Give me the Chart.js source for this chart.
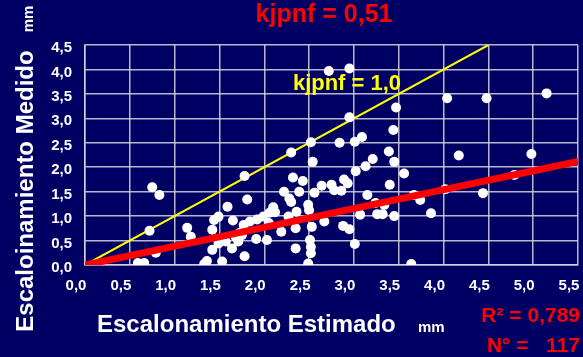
<!DOCTYPE html>
<html>
<head>
<meta charset="utf-8">
<script src="https://cdn.jsdelivr.net/npm/chart.js@4/dist/chart.umd.min.js"></script>
<style>
  html, body { margin: 0; padding: 0; background: #000064; }
  #wrap { width: 583px; height: 357px; }
</style>
</head>
<body>
<div id="wrap"><canvas id="myChart1" width="583" height="357"></canvas></div>
<script>
// escalonamiento estimado (x) / medido (y), mm
var estX = [0.59, 0.66, 0.72, 0.75, 0.83, 0.79, 1.14, 1.18, 1.33, 1.36,
  1.42, 1.42, 1.44, 1.49, 1.49, 1.53, 1.57, 1.59, 1.65, 1.64,
  1.71, 1.75, 1.68, 1.77, 1.78, 1.78, 1.81, 1.84, 1.91, 1.92,
  1.99, 2.03, 2.06, 2.10, 2.12, 2.19, 2.22, 2.28, 2.30, 2.27,
  2.30, 2.32, 2.35, 2.35, 2.36, 2.39, 2.43, 2.49, 2.50, 2.51,
  2.52, 2.52, 2.49, 2.52, 2.54, 2.53, 2.56, 2.64, 2.67, 2.72,
  2.75, 2.78, 2.84, 2.86, 2.88, 2.89, 2.93, 2.95, 2.95, 2.95,
  3.01, 3.02, 3.01, 3.07, 3.09, 3.13, 3.15, 3.21, 3.24, 3.26,
  3.32, 3.34, 3.39, 3.40, 3.44, 3.45, 3.45, 3.47, 3.56, 3.64,
  3.67, 3.74, 3.86, 4.02, 4.04, 4.17, 4.44, 4.48, 4.79, 4.98,
  5.15, 1.73, 2.05];
var medY = [0.04, 0.04, 0.70, 1.59, 1.43, 0.25, 0.76, 0.58, 0.02, 0.08,
  0.31, 0.72, 0.92, 0.99, 0.44, 0.07, 0.48, 1.19, 0.91, 0.34,
  0.48, 0.61, 0.58, 0.82, 0.18, 1.82, 1.34, 0.89, 0.53, 0.93,
  0.99, 0.51, 1.07, 1.18, 1.08, 0.68, 1.50, 1.36, 1.29, 0.99,
  2.30, 1.79, 0.75, 0.34, 1.09, 1.50, 1.72, 1.23, 1.12, 0.51,
  0.37, 0.24, 0.03, 2.51, 2.11, 0.78, 1.48, 1.62, 0.89, 3.97,
  1.64, 1.53, 2.50, 1.52, 0.80, 1.75, 1.67, 0.73, 3.02, 4.02,
  2.52, 1.92, 0.43, 1.03, 2.62, 2.02, 1.43, 2.17, 1.27, 1.04,
  1.04, 1.23, 2.32, 1.64, 2.76, 2.11, 1.00, 3.22, 1.87, 0.02,
  1.43, 1.33, 1.06, 1.55, 3.41, 2.24, 1.47, 3.41, 1.84, 2.27,
  3.51, 0.66, 0.86];

// rectas kjpnf = 1,0 y kjpnf = 0,51
var idealX = [0, 4.5];
var idealY = [0, 4.5];
var fitX = [0, 5.5];
var fitY = [0, 2.12];

var xTicks = ["0,0", "0,5", "1,0", "1,5", "2,0", "2,5", "3,0", "3,5", "4,0", "4,5", "5,0", "5,5"];
var yTicks = ["0,0", "0,5", "1,0", "1,5", "2,0", "2,5", "3,0", "3,5", "4,0", "4,5"];

function pairs(xs, ys) {
  return xs.map(function (x, i) { return { x: x, y: ys[i] }; });
}

var FONT = '"Liberation Sans", Arial, sans-serif';
var gridColor = "rgba(215,215,225,0.85)";

var bgPlugin = {
  id: "bg",
  beforeDraw: function (chart) {
    var c = chart.ctx;
    c.save();
    c.fillStyle = "#000064";
    c.fillRect(0, 0, chart.width, chart.height);
    c.restore();
  }
};

var textPlugin = {
  id: "texts",
  afterDraw: function (chart) {
    var c = chart.ctx;
    c.save();
    c.textBaseline = "alphabetic";

    c.fillStyle = "#ff0000";
    c.font = "bold 25px " + FONT;
    c.textAlign = "center";
    c.fillText("kjpnf = 0,51", 324, 22);

    c.fillStyle = "#ffff00";
    c.font = "bold 22px " + FONT;
    c.fillText("kjpnf = 1,0", 347, 90);

    c.fillStyle = "#ffffff";
    c.textAlign = "left";
    c.font = "bold 24px " + FONT;
    c.fillText("Escalonamiento Estimado", 97, 332);
    c.font = "bold 15px " + FONT;
    c.fillText("mm", 418, 332);

    c.save();
    c.translate(33, 191);
    c.rotate(-Math.PI / 2);
    c.textAlign = "center";
    c.font = "bold 24px " + FONT;
    c.fillText("Escaloinamiento Medido", 0, 0);
    c.restore();

    c.save();
    c.translate(33, 19);
    c.rotate(-Math.PI / 2);
    c.textAlign = "center";
    c.font = "bold 15px " + FONT;
    c.fillText("mm", 0, 0);
    c.restore();

    c.fillStyle = "#ff0000";
    c.textAlign = "right";
    c.font = "bold 21px " + FONT;
    c.fillText("R\u00b2 = 0,789", 580, 322);
    c.fillText("N\u00b0 =   117", 580, 352);
    c.restore();
  }
};

var ctx1 = document.getElementById("myChart1").getContext("2d");
var myChart1 = new Chart(ctx1, {
  type: "scatter",
  data: {
    datasets: [
      {
        type: "line",
        data: pairs(fitX, fitY),
        borderColor: "#ff0000",
        borderWidth: 7,
        pointRadius: 0,
        fill: false,
        order: 0
      },
      {
        data: pairs(estX, medY),
        backgroundColor: "#ffffff",
        borderWidth: 0,
        pointRadius: 5,
        order: 1
      },
      {
        type: "line",
        data: pairs(idealX, idealY),
        borderColor: "#ffff00",
        borderWidth: 2,
        pointRadius: 0,
        fill: false,
        order: 2
      }
    ]
  },
  options: {
    responsive: false,
    animation: false,
    events: [],
    layout: { padding: { top: 45, right: 1, left: 0, bottom: 0 } },
    plugins: { legend: { display: false }, tooltip: { enabled: false } },
    scales: {
      x: {
        type: "linear",
        min: 0,
        max: 5.5,
        ticks: {
          stepSize: 0.5,
          color: "#ffffff",
          font: { family: FONT, size: 15, weight: "bold" },
          padding: 12,
          labelOffset: -9,
          maxRotation: 0,
          callback: function (v, i) { return xTicks[i]; }
        },
        grid: { color: gridColor, lineWidth: 1.5, drawTicks: false },
        border: { color: gridColor, width: 1.5 },
        afterFit: function (s) { s.height = 92; s.paddingLeft = 0; s.paddingRight = 0; }
      },
      y: {
        min: 0,
        max: 4.5,
        ticks: {
          stepSize: 0.5,
          color: "#ffffff",
          font: { family: FONT, size: 15, weight: "bold" },
          padding: 13,
          labelOffset: 3,
          callback: function (v, i) { return yTicks[i]; }
        },
        grid: { color: gridColor, lineWidth: 1.5, drawTicks: false },
        border: { color: gridColor, width: 1.5 },
        afterFit: function (s) { s.width = 85; s.paddingTop = 0; s.paddingBottom = 0; }
      }
    }
  },
  plugins: [bgPlugin, textPlugin]
});
</script>
</body>
</html>
